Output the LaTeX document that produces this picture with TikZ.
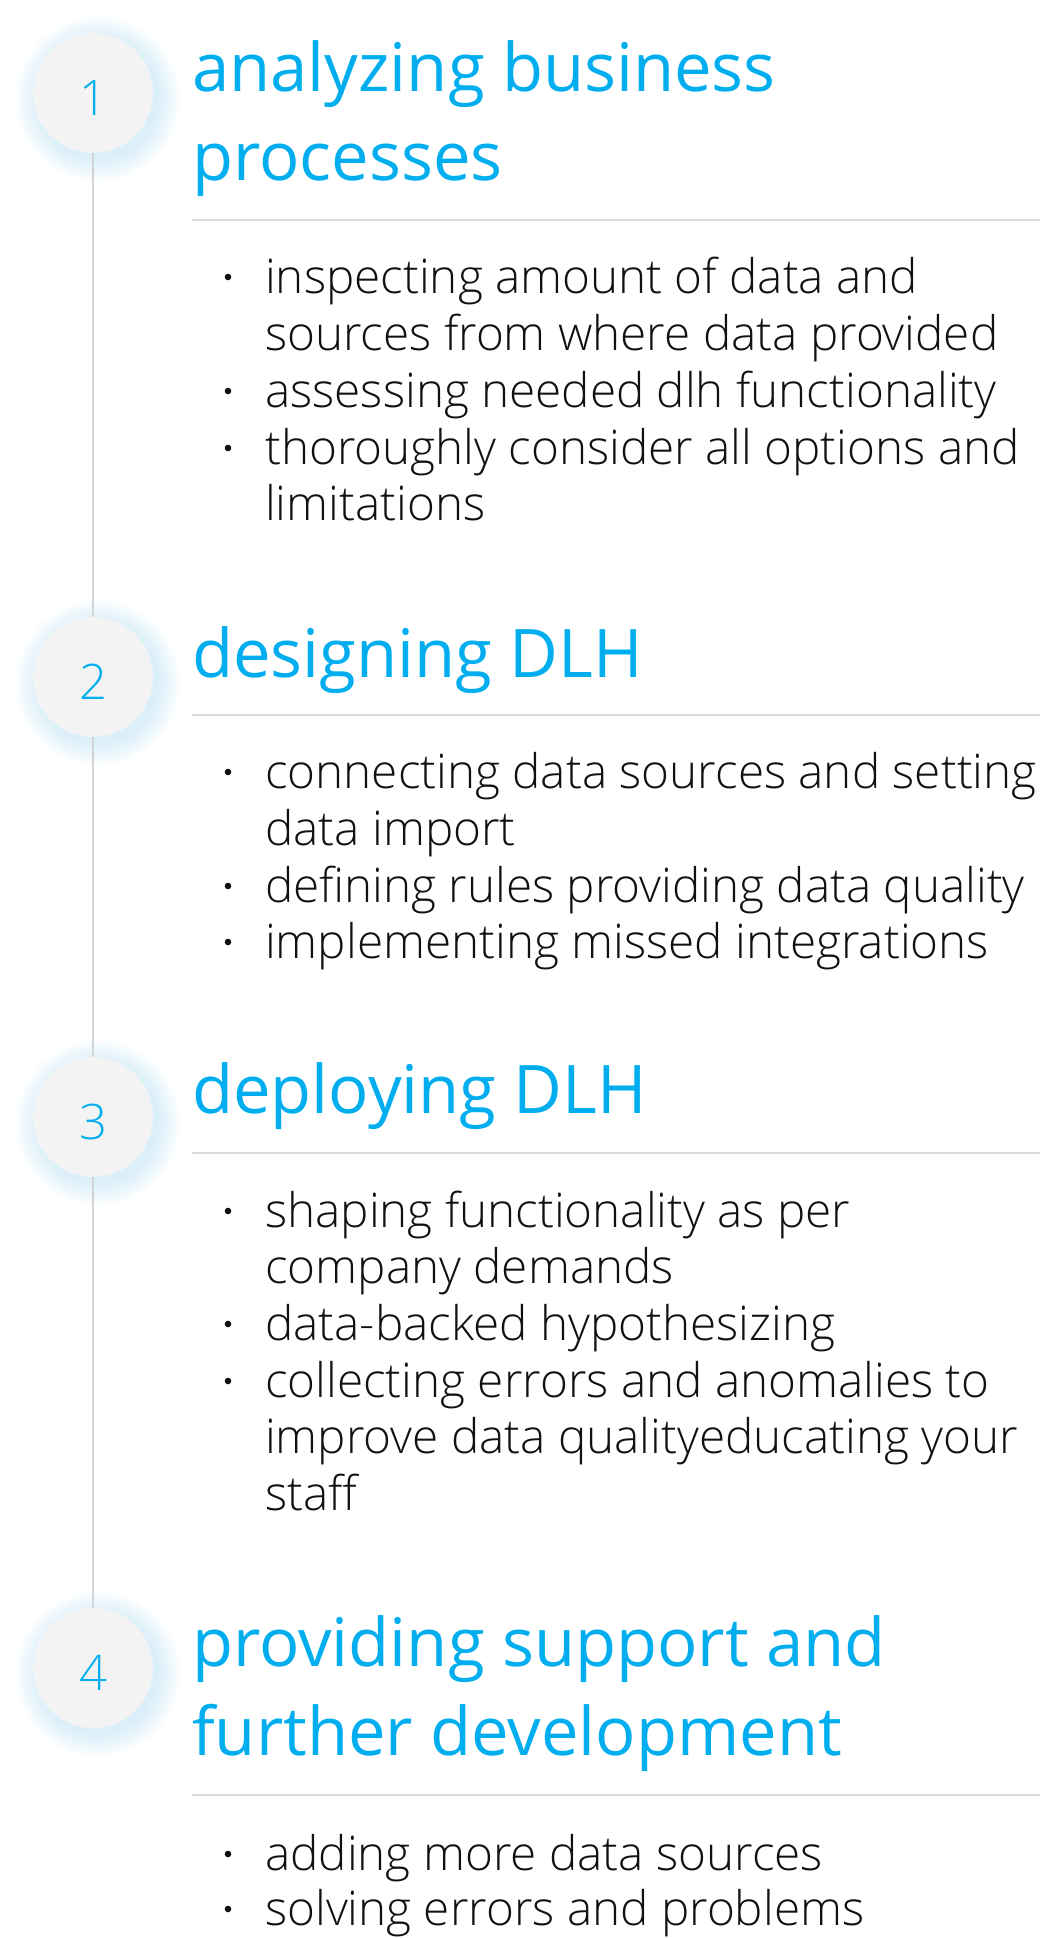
\documentclass[tikz,border=0pt]{standalone}
\usepackage{fontspec}
\setmainfont{Open Sans}
\newfontfamily\oslight{Open Sans Light}
\definecolor{accent}{HTML}{00AEEF}
\definecolor{circfill}{HTML}{F3F3F3}
\definecolor{glowc}{HTML}{B5DFF3}
\definecolor{linec}{HTML}{D4D4D4}
\definecolor{sepc}{HTML}{DADADA}
\definecolor{bodyc}{HTML}{111111}
\tikzset{
  head/.style={anchor=base west, inner sep=0pt, text=accent, font=\fontsize{67}{80}\selectfont},
  item/.style={anchor=base west, inner sep=0pt, text=bodyc, font=\oslight\fontsize{47.6}{56}\selectfont},
  num/.style={anchor=base, inner sep=0pt, text=accent, font=\oslight\fontsize{49}{58}\selectfont},
  stepcirc/.style={circle, fill=circfill, minimum size=120pt, inner sep=0pt},
  vline/.style={draw=linec, line width=2pt},
  sepline/.style={draw=sepc, line width=2.5pt},
  bulletdot/.style={fill=bodyc}
}
\newcommand{\glowat}[2]{%
  \foreach \r in {60,62,...,82} {\fill[glowc, opacity=0.055] (#1+5,#2+6) circle (\r pt);}}
\begin{document}
\begin{tikzpicture}[x=1pt,y=-1pt]
\useasboundingbox (0,0) rectangle (1047,1938);
% glows
\glowat{93}{93}
\glowat{93}{677}
\glowat{93}{1117}
\glowat{93}{1668}
% circles
\node[stepcirc] (c1) at (93,93) {};
\node[stepcirc] (c2) at (93,677) {};
\node[stepcirc] (c3) at (93,1117) {};
\node[stepcirc] (c4) at (93,1668) {};
\draw[vline] (c1.south) -- (c2.north);
\draw[vline] (c2.south) -- (c3.north);
\draw[vline] (c3.south) -- (c4.north);
\node[num] (n1) at ([yshift=-22pt]c1.center) {1};
\node[num] (n2) at ([yshift=-22pt]c2.center) {2};
\node[num] (n3) at ([yshift=-22pt]c3.center) {3};
\node[num] (n4) at ([yshift=-22pt]c4.center) {4};
% section 1
\node[head] (h1a) at (192,91) {analyzing business};
\node[head] (h1b) at (192,180) {processes};
\coordinate (s1a) at (192,220); \coordinate (s1b) at (1040,220);
\draw[sepline] (s1a) -- (s1b);
\node[item] (t1a) at (265,293) {inspecting amount of data and};
\node[item] (t1b) at (265,350) {sources from where data provided};
\node[item] (t1c) at (265,407) {assessing needed dlh functionality};
\node[item] (t1d) at (265,464) {thoroughly consider all options and};
\node[item] (t1e) at (265,520) {limitations};
\foreach \yy in {293,407,464} \fill[bulletdot] (228,\yy-16) circle (3.3pt);
% section 2
\node[head] (h2) at (192,677) {designing DLH};
\coordinate (s2a) at (192,715); \coordinate (s2b) at (1040,715);
\draw[sepline] (s2a) -- (s2b);
\node[item] (t2a) at (265,788) {connecting data sources and setting};
\node[item] (t2b) at (265,845) {data import};
\node[item] (t2c) at (265,902) {defining rules providing data quality};
\node[item] (t2d) at (265,958) {implementing missed integrations};
\foreach \yy in {788,902,958} \fill[bulletdot] (228,\yy-16) circle (3.3pt);
% section 3
\node[head] (h3) at (192,1113) {deploying DLH};
\coordinate (s3a) at (192,1153); \coordinate (s3b) at (1040,1153);
\draw[sepline] (s3a) -- (s3b);
\node[item] (t3a) at (265,1227) {shaping functionality as per};
\node[item] (t3b) at (265,1283) {company demands};
\node[item] (t3c) at (265,1340) {data-backed hypothesizing};
\node[item] (t3d) at (265,1397) {collecting errors and anomalies to};
\node[item] (t3e) at (265,1453) {improve data qualityeducating your};
\node[item] (t3f) at (265,1510) {staff};
\foreach \yy in {1227,1340,1397} \fill[bulletdot] (228,\yy-16) circle (3.3pt);
% section 4
\node[head] (h4a) at (192,1666) {providing support and};
\node[head] (h4b) at (192,1755) {further development};
\coordinate (s4a) at (192,1795); \coordinate (s4b) at (1040,1795);
\draw[sepline] (s4a) -- (s4b);
\node[item] (t4a) at (265,1870) {adding more data sources};
\node[item] (t4b) at (265,1925) {solving errors and problems};
\foreach \yy in {1870,1925} \fill[bulletdot] (228,\yy-16) circle (3.3pt);
\end{tikzpicture}
\end{document}
